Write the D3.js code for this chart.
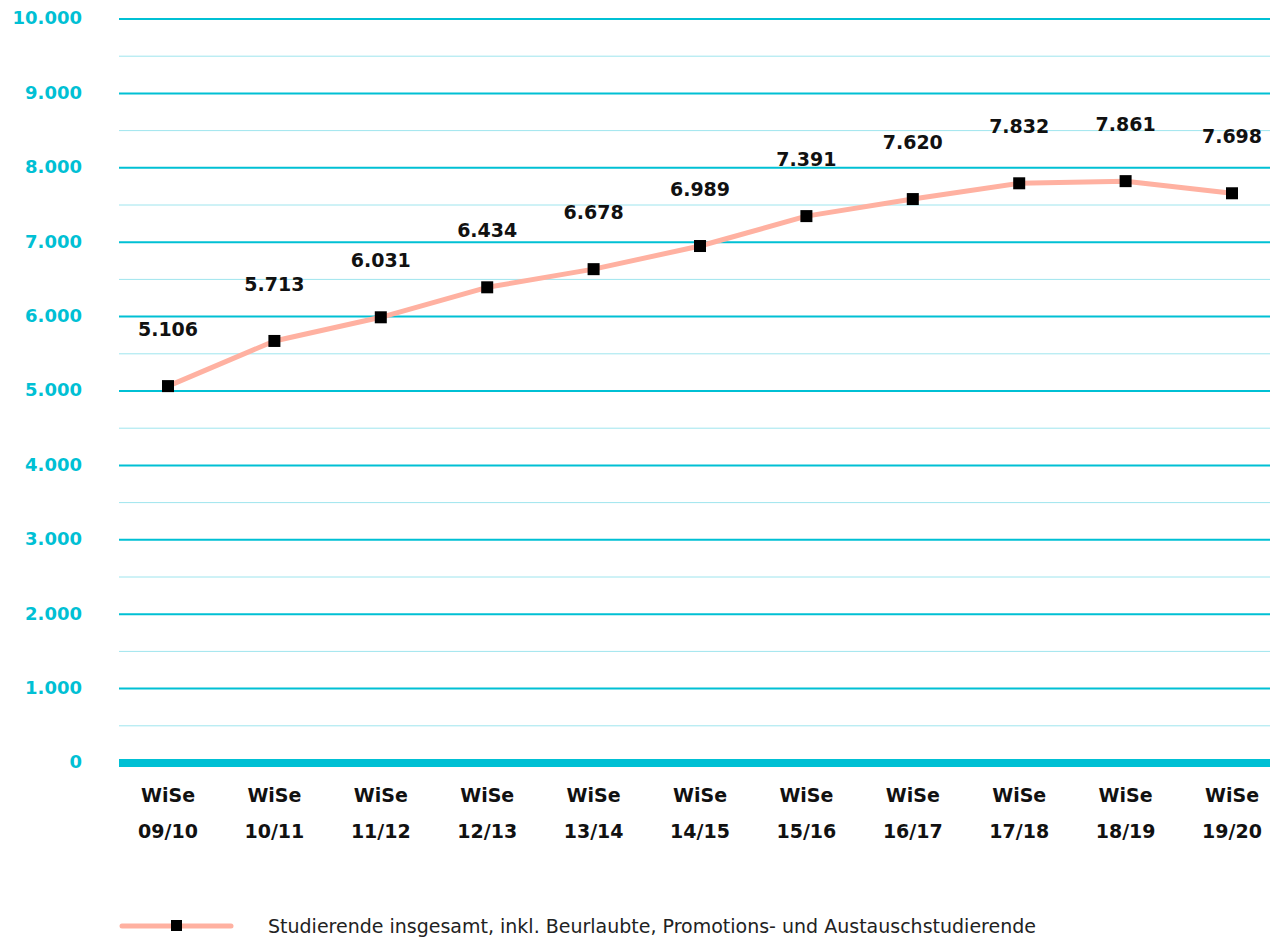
<!DOCTYPE html>
<html>
<head>
<meta charset="utf-8">
<script src="https://cdn.jsdelivr.net/npm/d3@7"></script>
<style>
  body { margin: 0; background: #fff; }
  svg text { font-family: "DejaVu Sans", Lato, sans-serif; }
</style>
</head>
<body>
<div id="chart"></div>
<script>
// Studierende pro Wintersemester
var semesters = ["09/10", "10/11", "11/12", "12/13", "13/14", "14/15", "15/16", "16/17", "17/18", "18/19", "19/20"];
var students = [5106, 5713, 6031, 6434, 6678, 6989, 7391, 7620, 7832, 7861, 7698];
var majorTicks = [0, 1000, 2000, 3000, 4000, 5000, 6000, 7000, 8000, 9000, 10000];
var minorTicks = [500, 1500, 2500, 3500, 4500, 5500, 6500, 7500, 8500, 9500];
var legendLabel = "Studierende insgesamt, inkl. Beurlaubte, Promotions- und Austauschstudierende";

(function drawChart() {
	var W = 1274, H = 937;
	var left = 119, right = 1270, top = 19, bottom = 763;

	var fmt = d3.formatLocale({decimal: ",", thousands: ".", grouping: [3], currency: ["", "€"]}).format(",");

	// categories from ~168 to ~1230
	var x = d3.scalePoint()
		.domain(semesters)
		.range([168, 1232]);

	var y = d3.scaleLinear()
		.domain([0, 10000])
		.range([bottom, top]);

	var svg = d3.select("#chart").append("svg")
		.attr("width", W)
		.attr("height", H);

	// minor grid
	svg.append("g").selectAll("line")
		.data(minorTicks).enter().append("line")
		.attr("x1", left).attr("x2", right)
		.attr("y1", function(d) { return y(d); })
		.attr("y2", function(d) { return y(d); })
		.attr("stroke", "#9ee5ee").attr("stroke-width", 1);

	// major grid
	svg.append("g").selectAll("line")
		.data(majorTicks.filter(function(d) { return d > 0; })).enter().append("line")
		.attr("x1", left).attr("x2", right)
		.attr("y1", function(d) { return y(d); })
		.attr("y2", function(d) { return y(d); })
		.attr("stroke", "#00c0d4").attr("stroke-width", 2);

	// zero line (thick)
	svg.append("line")
		.attr("x1", left).attr("x2", right)
		.attr("y1", y(0)).attr("y2", y(0))
		.attr("stroke", "#00c0d4").attr("stroke-width", 8);

	// y labels
	svg.append("g").selectAll("text")
		.data(majorTicks).enter().append("text")
		.attr("x", 82)
		.attr("y", function(d) { return y(d); })
		.attr("dy", "0.3em")
		.attr("text-anchor", "end")
		.attr("fill", "#00c0d4")
		.attr("font-weight", 700)
		.attr("font-size", 18)
		.text(function(d) { return fmt(d); });

	// x labels
	var xl = svg.append("g").selectAll("g")
		.data(semesters).enter().append("g")
		.attr("transform", function(d) { return "translate(" + x(d) + ",0)"; });
	xl.append("text")
		.attr("y", 802).attr("text-anchor", "middle")
		.attr("font-weight", 700).attr("font-size", 19).attr("fill", "#111")
		.text("WiSe");
	xl.append("text")
		.attr("y", 838).attr("text-anchor", "middle")
		.attr("font-weight", 700).attr("font-size", 19).attr("fill", "#111")
		.text(function(d) { return d; });

	// line
	var line = d3.line()
		.x(function(d, i) { return x(semesters[i]); })
		.y(function(d) { return y(d) + 3; });

	svg.append("path")
		.datum(students)
		.attr("d", line)
		.attr("fill", "none")
		.attr("stroke", "#ffb1a1")
		.attr("stroke-width", 5)
		.attr("stroke-linejoin", "round");

	// markers
	svg.append("g").selectAll("rect")
		.data(students).enter().append("rect")
		.attr("x", function(d, i) { return x(semesters[i]) - 6; })
		.attr("y", function(d) { return y(d) - 3; })
		.attr("width", 12).attr("height", 12)
		.attr("fill", "#000");

	// value labels
	svg.append("g").selectAll("text")
		.data(students).enter().append("text")
		.attr("x", function(d, i) { return x(semesters[i]); })
		.attr("y", function(d) { return y(d) - 47; })
		.attr("text-anchor", "middle")
		.attr("font-weight", 700)
		.attr("font-size", 19)
		.attr("fill", "#111")
		.text(function(d) { return fmt(d); });

	// legend
	var lg = svg.append("g").attr("transform", "translate(0,926)");
	lg.append("line")
		.attr("x1", 122).attr("x2", 231)
		.attr("stroke", "#ffb1a1").attr("stroke-width", 5)
		.attr("stroke-linecap", "round");
	lg.append("rect")
		.attr("x", 171).attr("y", -6).attr("width", 11).attr("height", 11)
		.attr("fill", "#000");
	lg.append("text")
		.attr("x", 268).attr("dy", "0.35em")
		.attr("font-size", 19).attr("fill", "#222")
		.text(legendLabel);
})();
</script>
</body>
</html>
